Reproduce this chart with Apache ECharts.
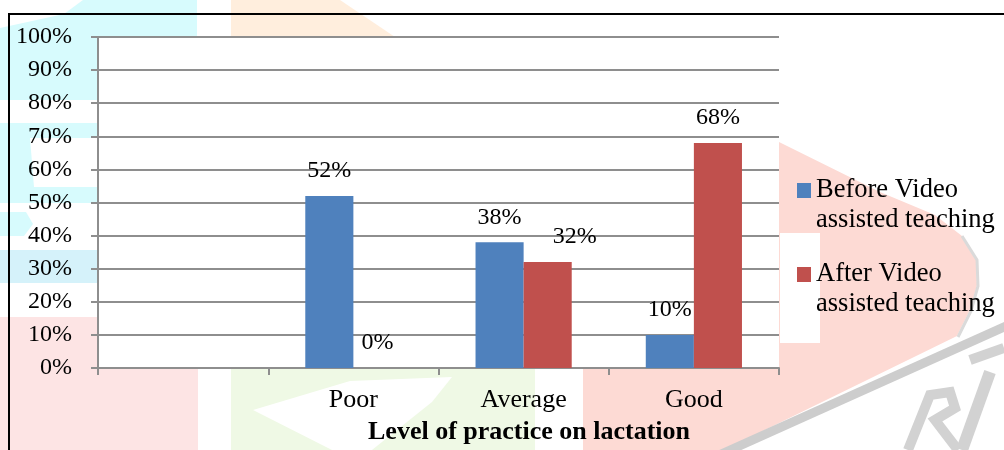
<!DOCTYPE html>
<html>
<head>
<meta charset="utf-8">
<script src="https://cdn.jsdelivr.net/npm/echarts@6/dist/echarts.min.js"></script>
<style>
  html, body { margin: 0; padding: 0; background: #ffffff; }
  #chart { width: 1004px; height: 450px; }
</style>
</head>
<body>
<div id="chart"></div>
<script>
// Practice level on lactation, before and after video assisted teaching
const categories = ['', 'Poor', 'Average', 'Good'];
const seriesNames = ['Before Video\nassisted teaching', 'After Video\nassisted teaching'];
const beforeValues = [null, 52, 38, 10];
const afterValues = [null, 0, 32, 68];
const yTicks = [0, 10, 20, 30, 40, 50, 60, 70, 80, 90, 100];
const axisTitle = 'Level of practice on lactation';

const FONT = '"Liberation Serif", "Times New Roman", serif';
const BLUE = '#4f81bd';
const RED = '#c0504d';
const GRID_GREY = '#8e8e8e';

// faint logo artwork printed behind the chart
function bgPoly(points, fill) {
  return { type: 'polygon', z: -10, silent: true, shape: { points: points }, style: { fill: fill } };
}
function bgLine(points, stroke, width) {
  return { type: 'polyline', z: -10, silent: true, shape: { points: points },
           style: { stroke: stroke, lineWidth: width, fill: null } };
}
const backdrop = [
  // cyan swirls on the left
  bgPoly([[83, 0], [197, 0], [197, 37], [98, 37], [98, 100], [0, 100], [0, 28], [64, 14]], '#d7fbfd'),
  bgPoly([[0, 123], [98, 123], [98, 138], [0, 138]], '#d7fbfd'),
  bgPoly([[0, 138], [30, 138], [34, 187], [0, 187]], '#d7fbfd'),
  bgPoly([[0, 187], [98, 187], [98, 203], [0, 203]], '#d7fbfd'),
  bgPoly([[0, 212], [26, 212], [33, 224], [24, 236], [0, 236]], '#d7fbfd'),
  bgPoly([[0, 250], [98, 250], [98, 283], [0, 283]], '#d5f2fa'),
  // pink block bottom left
  bgPoly([[0, 317], [98, 317], [98, 368], [198, 368], [198, 450], [0, 450]], '#fde4e4'),
  // orange block top
  bgPoly([[231, 0], [340, 0], [395, 37], [231, 37]], '#ffeedd'),
  // green block with white chevron
  bgPoly([[231, 368], [535, 368], [535, 450], [231, 450]], '#eff9e5'),
  bgPoly([[253, 410], [350, 381], [452, 377], [432, 402], [372, 450], [332, 450]], '#ffffff'),
  // salmon drop on the right
  bgPoly([[583, 368], [779, 368], [779, 142], [880, 192], [935, 215], [962, 236], [976, 260],
          [977, 285], [970, 310], [957, 336], [724, 450], [583, 450]], '#fddad4'),
  bgPoly([[780, 233], [820, 233], [820, 343], [780, 343]], '#ffffff'),
  bgLine([[962, 236], [977, 260], [978, 286], [971, 311], [958, 337]], '#dadada', 3),
  // grey stripe and letter strokes
  bgPoly([[1004, 322], [1004, 332], [728, 456], [706, 456]], '#cdcdcd'),
  bgLine([[908, 450], [930, 395], [950, 392], [955, 408], [935, 420], [958, 450]], '#d2d2d2', 10),
  bgLine([[990, 372], [962, 450]], '#d2d2d2', 12),
  bgLine([[970, 360], [1004, 348]], '#d2d2d2', 10)
];

const frame = {
  type: 'rect', z: 100, silent: true,
  shape: { x: 9, y: 14, width: 1100, height: 500 },
  style: { fill: null, stroke: '#000000', lineWidth: 2 }
};

const labelStyle = {
  show: true,
  position: 'top',
  distance: 13,
  fontFamily: FONT,
  fontSize: 24,
  color: '#000000',
  formatter: function (p) { return p.value + '%'; }
};

// each legend entry: the marker sits beside the first of its two text lines
function legendFor(name, top) {
  return {
    data: [name],
    left: 797,
    top: top,
    padding: 0,
    itemWidth: 14,
    itemHeight: 15,
    icon: 'rect',
    selectedMode: false,
    formatter: function (n) { return '\n' + n; },
    textStyle: {
      fontFamily: FONT,
      fontSize: 26.5,
      lineHeight: 30,
      color: '#000000'
    }
  };
}

const chart = echarts.init(document.getElementById('chart'), null, { renderer: 'canvas' });
chart.setOption({
  animation: false,
  backgroundColor: '#ffffff',
  graphic: backdrop.concat([frame]),
  grid: {
    left: 98, right: 225, top: 37, bottom: 82,
    show: true, backgroundColor: '#ffffff', borderWidth: 0
  },
  title: {
    text: axisTitle,
    left: 368,
    top: 419,
    padding: 0,
    textStyle: { fontFamily: FONT, fontSize: 26, fontWeight: 'bold', color: '#000000' }
  },
  legend: [
    legendFor(seriesNames[0], 145.5),
    legendFor(seriesNames[1], 229.5)
  ],
  xAxis: {
    type: 'category',
    data: categories,
    axisLine: { lineStyle: { color: GRID_GREY, width: 2 } },
    axisTick: { show: true, length: 7, lineStyle: { color: GRID_GREY, width: 2 } },
    axisLabel: { fontFamily: FONT, fontSize: 26, color: '#000000', margin: 19 }
  },
  yAxis: {
    type: 'value',
    min: yTicks[0],
    max: yTicks[yTicks.length - 1],
    interval: yTicks[1] - yTicks[0],
    axisLine: { show: true, lineStyle: { color: GRID_GREY, width: 2 } },
    axisTick: { show: true, length: 7, lineStyle: { color: GRID_GREY, width: 2 } },
    splitLine: { lineStyle: { color: GRID_GREY, width: 2 } },
    axisLabel: {
      fontFamily: FONT, fontSize: 24, color: '#000000', margin: 26,
      formatter: function (v) { return v + '%'; }
    }
  },
  series: [
    {
      name: seriesNames[0],
      type: 'bar',
      data: beforeValues,
      itemStyle: { color: BLUE },
      barGap: '0%',
      barCategoryGap: '43.5%',
      label: labelStyle
    },
    {
      name: seriesNames[1],
      type: 'bar',
      // the Average label sits beside its bar, clear of the 38% label
      data: afterValues.map(function (v, i) {
        return categories[i] === 'Average' ? { value: v, label: { offset: [27, 0] } } : v;
      }),
      itemStyle: { color: RED },
      barGap: '0%',
      barCategoryGap: '43.5%',
      label: labelStyle
    }
  ]
});
</script>
</body>
</html>
